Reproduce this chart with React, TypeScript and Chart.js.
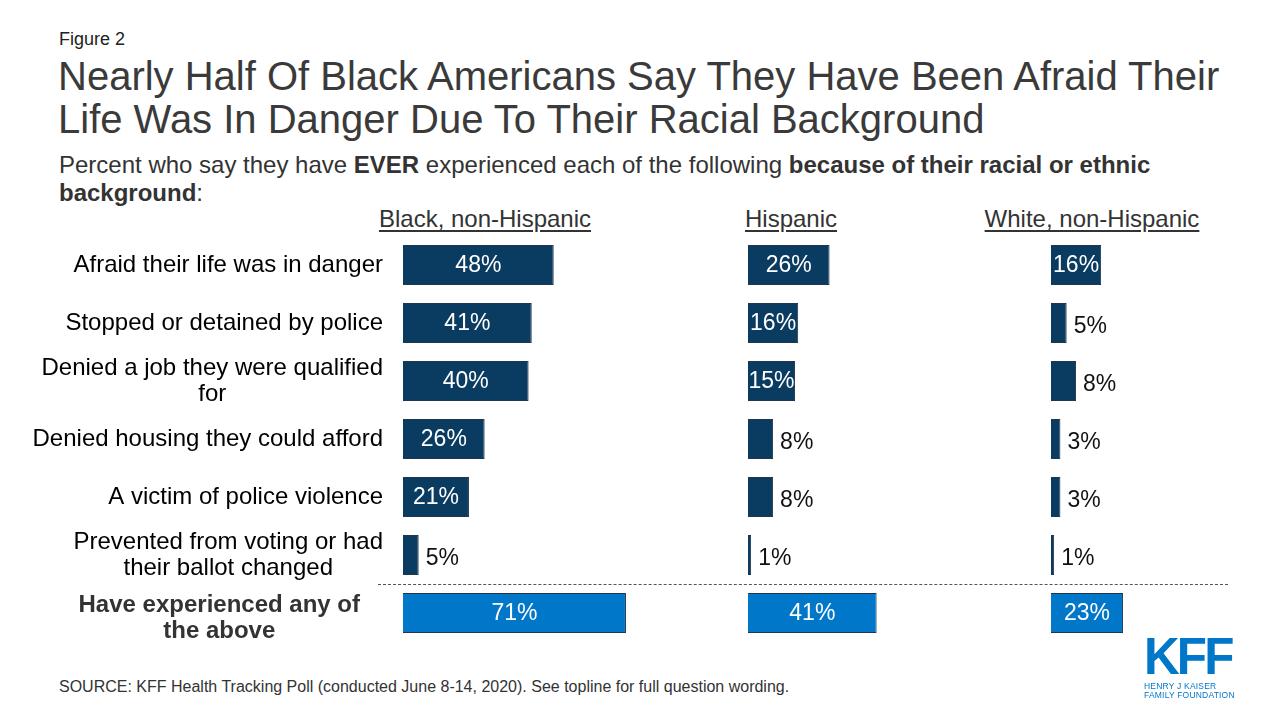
import React, { useEffect, useRef } from "react";
import { Chart, registerables } from "chart.js";

Chart.register(...registerables);

const categories: (string | string[])[] = [
  "Afraid their life was in danger",
  "Stopped or detained by police",
  ["Denied a job they were qualified", "for"],
  "Denied housing they could afford",
  "A victim of police violence",
  ["Prevented from voting or had", "their ballot changed"],
  ["Have experienced any of", "the above"],
];
const groups = ["Black, non-Hispanic", "Hispanic", "White, non-Hispanic"];
const blackValues = [48, 41, 40, 26, 21, 5, 71];
const hispanicValues = [26, 16, 15, 8, 8, 1, 41];
const whiteValues = [16, 5, 8, 3, 3, 1, 23];

const NAVY = "#0a3b61";
const LIGHT = "#0077c8";
const FONT = "'Liberation Sans', Arial, sans-serif";

const valueLabelPlugin = {
  id: "valueLabels",
  afterDatasetsDraw(chart: any) {
    const ctx = chart.ctx;
    const ds = chart.data.datasets[0];
    const meta = chart.getDatasetMeta(0);
    ctx.save();
    ctx.font = `23px ${FONT}`;
    ctx.textBaseline = "middle";
    meta.data.forEach((el: any, i: number) => {
      const v = ds.data[i];
      const txt = `${v}%`;
      const w = ctx.measureText(txt).width;
      const barW = el.x - el.base;
      if (w - 2 <= barW) {
        ctx.fillStyle = "#ffffff";
        ctx.textAlign = "center";
        ctx.fillText(txt, (el.x + el.base) / 2, el.y + 1);
      } else {
        ctx.fillStyle = "#111111";
        ctx.textAlign = "left";
        ctx.fillText(txt, el.x + 7, el.y + 4);
      }
    });
    ctx.restore();
  },
};

// Category labels: blocks right-aligned to the axis, lines centred within each block
const categoryLabelPlugin = {
  id: "categoryLabels",
  afterDraw(chart: any) {
    const yScale = chart.scales.y;
    if (!yScale || !yScale.options.display) return;
    const ctx = chart.ctx;
    const lineH = 26;
    ctx.save();
    ctx.textBaseline = "middle";
    ctx.textAlign = "center";
    chart.data.labels.forEach((lab: any, i: number) => {
      const lines: string[] = Array.isArray(lab) ? lab : [lab];
      const last = i === chart.data.labels.length - 1;
      ctx.font = last ? `bold 24px ${FONT}` : `24px ${FONT}`;
      ctx.fillStyle = last ? "#333333" : "#000000";
      const blockW = Math.max(...lines.map((l) => ctx.measureText(l).width));
      const right = chart.chartArea.left - (last ? 43 : 20);
      const cx = right - blockW / 2;
      const cy = yScale.getPixelForValue(i) + (last ? 5 : 0);
      lines.forEach((l, k) => {
        ctx.fillText(l, cx, cy + (k - (lines.length - 1) / 2) * lineH);
      });
    });
    ctx.restore();
  },
};

function Panel(props: {
  values: number[];
  max: number;
  left: number;
  width: number;
  padRight: number;
  showLabels: boolean;
  axisWidth: number;
}) {
  const ref = useRef<HTMLCanvasElement>(null);
  useEffect(() => {
    const colors = props.values.map((_, i) => (i === 6 ? LIGHT : NAVY));
    const chart = new Chart(ref.current!, {
      type: "bar",
      data: {
        labels: categories as any,
        datasets: [
          {
            data: props.values,
            backgroundColor: colors,
            borderColor: "#22354a",
            borderWidth: 1,
            barPercentage: 0.69,
            categoryPercentage: 1,
          },
        ],
      },
      options: {
        indexAxis: "y",
        responsive: false,
        maintainAspectRatio: false,
        animation: false,
        layout: { padding: { left: 0, right: props.padRight, top: 0, bottom: 0 } },
        plugins: { legend: { display: false }, tooltip: { enabled: false }, title: { display: false } },
        scales: {
          x: { display: false, min: 0, max: props.max },
          y: {
            display: props.showLabels,
            grid: { display: false, drawTicks: false },
            border: { display: false },
            afterFit: (s: any) => {
              if (props.showLabels) {
                s.width = props.axisWidth;
                s.paddingTop = 0;
                s.paddingBottom = 0;
              }
            },
            ticks: {
              padding: 20,
              autoSkip: false,
              color: "rgba(0,0,0,0)",
              font: { family: FONT, size: 24, lineHeight: 1.08 },
            },
          },
        },
      } as any,
      plugins: [valueLabelPlugin, categoryLabelPlugin],
    });
    return () => chart.destroy();
  }, []);
  return (
    <canvas
      ref={ref}
      width={props.width}
      height={406}
      style={{ position: "absolute", left: props.left, top: 236, width: props.width, height: 406 }}
    />
  );
}

export default function App() {
  const headerCenters = [485, 791, 1092];
  return (
    <div
      style={{
        position: "absolute",
        left: 0,
        top: 0,
        width: 1280,
        height: 720,
        background: "#ffffff",
        fontFamily: FONT,
        color: "#333333",
        overflow: "hidden",
      }}
    >
      <div style={{ position: "absolute", left: 59, top: 29, fontSize: 18, lineHeight: "20px", color: "#222" }}>
        Figure 2
      </div>
      <div
        style={{
          position: "absolute",
          left: 58,
          top: 55,
          width: 1220,
          fontSize: 40,
          lineHeight: "43px",
          color: "#3a3a3a",
        }}
      >
        Nearly Half Of Black Americans Say They Have Been Afraid Their
        <br />
        Life Was In Danger Due To Their Racial Background
      </div>
      <div
        style={{
          position: "absolute",
          left: 59,
          top: 151,
          width: 1110,
          fontSize: 24,
          lineHeight: "28px",
          color: "#333",
        }}
      >
        Percent who say they have <b>EVER</b> experienced each of the following{" "}
        <b>because of their racial or ethnic background</b>:
      </div>
      {groups.map((g, i) => (
        <div
          key={g}
          style={{
            position: "absolute",
            left: headerCenters[i] - 150,
            width: 300,
            top: 205,
            textAlign: "center",
            fontSize: 24,
            lineHeight: "28px",
            color: "#333",
          }}
        >
          <span style={{ textDecoration: "underline", textUnderlineOffset: 3 }}>{g}</span>
        </div>
      ))}
      <Panel values={blackValues} max={100} left={0} width={717} padRight={0} showLabels={true} axisWidth={403} />
      <Panel values={hispanicValues} max={80} left={748} width={311} padRight={60} showLabels={false} axisWidth={0} />
      <Panel values={whiteValues} max={60} left={1051} width={228} padRight={40} showLabels={false} axisWidth={0} />
      <div
        style={{
          position: "absolute",
          left: 378,
          top: 584,
          width: 850,
          borderTop: "1px dashed #555",
        }}
      />
      <div style={{ position: "absolute", left: 59, top: 678, fontSize: 16, lineHeight: "18px", color: "#333" }}>
        SOURCE: KFF Health Tracking Poll (conducted June 8-14, 2020). See topline for full question wording.
      </div>
      <div style={{ position: "absolute", left: 1144, top: 630, color: LIGHT }}>
        <div
          style={{
            fontSize: 52,
            fontWeight: 900,
            lineHeight: "52px",
            letterSpacing: -3,
            transform: "scaleX(0.95)",
            transformOrigin: "left",
          }}
        >
          KFF
        </div>
        <div style={{ fontSize: 8.5, lineHeight: "9px", letterSpacing: 0.2 }}>
          HENRY J KAISER
          <br />
          FAMILY FOUNDATION
        </div>
      </div>
    </div>
  );
}
